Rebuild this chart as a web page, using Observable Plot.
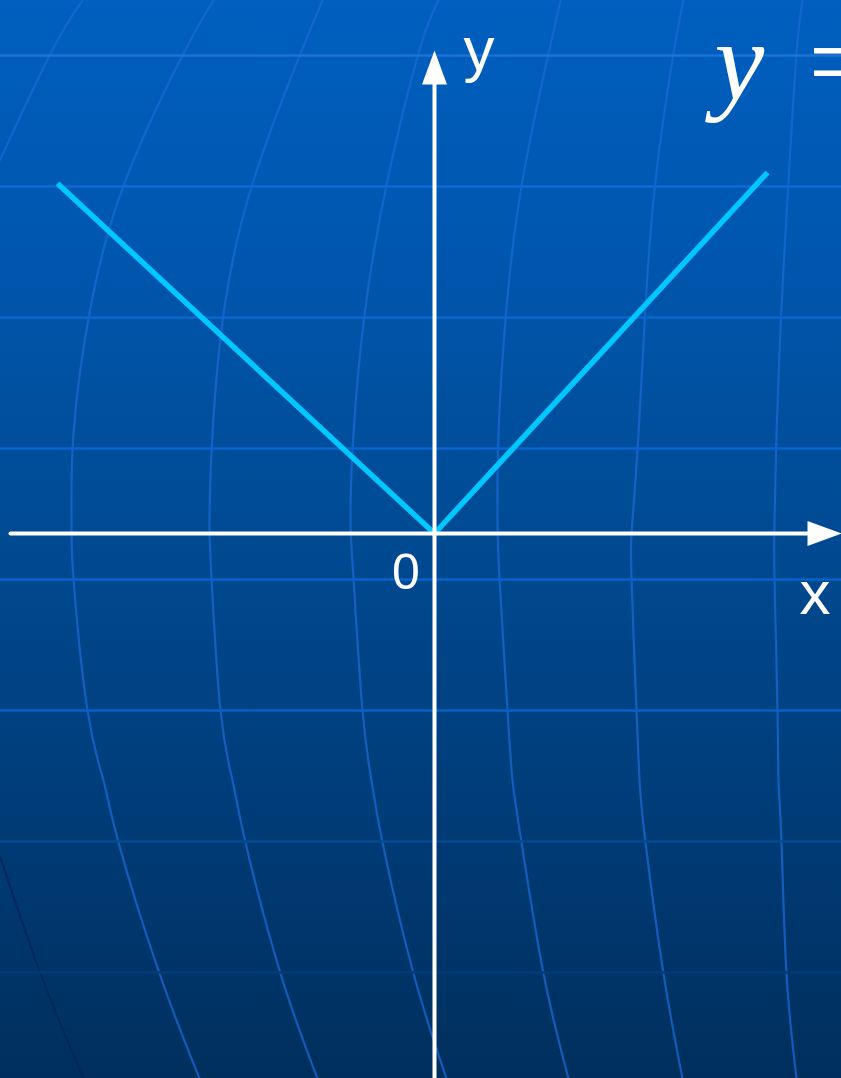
<!DOCTYPE html>
<html>
<head>
<meta charset="utf-8">
<script src="https://cdn.jsdelivr.net/npm/d3@7"></script>
<script src="https://cdn.jsdelivr.net/npm/@observablehq/plot@0.6"></script>
<style>
  html, body { margin: 0; padding: 0; overflow: hidden; background: #00305e; }
  #chart svg { display: block; }
</style>
</head>
<body>
<div id="chart"></div>
<script>
// ---- data (units: 1 = one grid step of the drawing) ----
const xDomain = [-4.34, 4.07];
const yDomain = [-5.45, 5.33];

// the V-shaped graph y = |x|
const graphX = [-3.77, 0, 3.33];
const graphY = [3.50, 0, 3.61];

// background horizontal grid lines
const gridY = [4.78, 3.47, 2.16, 0.85, -0.46, -1.77, -3.08, -4.39];

// background curved meridians (shared y samples)
const meridianY = [5.33, 4.80, 3.53, 2.26, 1.00, 0.13, -0.45, -1.77, -2.47, -3.09, -4.40, -5.45];
const meridianA = [-3.52, -3.84, -4.44, null, null, null, null, null, null, null, null, null];
const meridianB = [-2.21, -2.51, -3.09, -3.44, -3.61, -3.63, -3.61, -3.47, -3.31, -3.16, -2.75, -2.35];
const meridianC = [-1.12, -1.34, -1.81, -2.10, -2.22, -2.25, -2.23, -2.14, -2.02, -1.89, -1.54, -1.17];
const meridianD = [0.04, -0.16, -0.47, -0.69, -0.81, -0.84, -0.81, -0.72, -0.63, -0.52, -0.21, 0.12];
const meridianE = [1.26, 1.14, 0.88, 0.72, 0.64, 0.63, 0.65, 0.73, 0.78, 0.87, 1.09, 1.34];
const meridianF = [2.49, 2.39, 2.21, 2.11, 2.04, 1.98, 1.97, 2.02, 2.05, 2.11, 2.29, 2.48];
const meridianG = [3.68, 3.62, 3.54, 3.47, 3.42, 3.40, 3.40, 3.43, 3.44, 3.47, 3.52, 3.62];
const shadowX = [-4.34, -3.94, -3.51];
const shadowY = [-3.24, -4.40, -5.45];

// axis labels
const axisLabelText = ["y", "x"];
const axisLabelX = [0.29, 3.65];
const axisLabelY = [4.64, -0.80];
const originText = "0";
const originX = -0.285;
const originY = -0.55;

// formula title (cut at the right edge)
const formulaVar = "y";
const formulaRest = "= |x|";
const formulaVarX = 2.80;
const formulaRestX = 3.74;
const formulaY = 4.35;

// ---- build tables ----
const meridians = [meridianA, meridianB, meridianC, meridianD, meridianE, meridianF, meridianG]
  .flatMap((xs, k) => xs.map((x, i) => ({k, x, y: x == null ? null : meridianY[i]})));
const shadow = shadowX.map((x, i) => ({x, y: shadowY[i]}));
const graph = graphX.map((x, i) => ({x, y: graphY[i]}));
const axisLabels = axisLabelText.map((t, i) => ({t, x: axisLabelX[i], y: axisLabelY[i]}));

// axes derived from the domain
const xMin = xDomain[0] + 0.10, xMax = xDomain[1];
const yMin = yDomain[0], yMax = yDomain[1] - 0.50;
const headLen = 0.34, headHalf = 0.125;
const xAxisLine = [{x: xMin, y: 0}, {x: xMax - headLen, y: 0}];
const yAxisLine = [{x: 0, y: yMin}, {x: 0, y: yMax - headLen}];
const xHead = [{x: xMax, y: 0}, {x: xMax - headLen, y: headHalf}, {x: xMax - headLen, y: -headHalf}];
const yHead = [{x: 0, y: yMax}, {x: -headHalf, y: yMax - headLen}, {x: headHalf, y: yMax - headLen}];

const gridColors = ["#1d72d6", "#0f6ad3", "#0a67d0", "#0865cd", "#0663cc", "#0660c8", "#044a94", "#003d78"];
const sans = "'Liberation Sans', Arial, sans-serif";
const serif = "'Liberation Serif', 'Times New Roman', serif";

const chart = Plot.plot({
  width: 841,
  height: 1078,
  margin: 0,
  style: {
    background: "linear-gradient(to bottom, #005fbf 0%, #0056ad 25%, #004a92 50%, #003c78 75%, #002f5d 100%)",
    overflow: "hidden"
  },
  x: {domain: xDomain, axis: null},
  y: {domain: yDomain, axis: null},
  marks: [
    Plot.line(shadow, {x: "x", y: "y", stroke: "#00285a", strokeWidth: 2, curve: "natural", clip: true}),
    Plot.line(meridians, {x: "x", y: "y", z: "k", stroke: "#1a6ad6", strokeOpacity: 0.75, strokeWidth: 2.2, curve: "natural", clip: true}),
    Plot.ruleY(gridY, {stroke: (d, i) => gridColors[i], strokeWidth: 2.5}),
    Plot.line(graph, {x: "x", y: "y", stroke: "#00c8ff", strokeWidth: 5.5, strokeLinejoin: "miter", strokeLinecap: "butt"}),
    Plot.line(xAxisLine, {x: "x", y: "y", stroke: "white", strokeWidth: 4}),
    Plot.line(yAxisLine, {x: "x", y: "y", stroke: "white", strokeWidth: 4}),
    Plot.line(xHead, {x: "x", y: "y", fill: "white", stroke: "none"}),
    Plot.line(yHead, {x: "x", y: "y", fill: "white", stroke: "none"}),
    Plot.text(axisLabels, {x: "x", y: "y", text: "t", fill: "white", fontSize: 62,
      fontFamily: sans, textAnchor: "start", lineAnchor: "bottom"}),
    Plot.text([originText], {x: () => originX, y: () => originY, text: (d) => d, fill: "white", fontSize: 50,
      fontFamily: sans, textAnchor: "middle", lineAnchor: "bottom"}),
    Plot.text([formulaVar], {x: () => formulaVarX, y: () => formulaY, text: (d) => d, fill: "white", fontSize: 112,
      fontFamily: serif, fontStyle: "italic", textAnchor: "start", lineAnchor: "bottom"}),
    Plot.text([formulaRest], {x: () => formulaRestX, y: () => formulaY, text: (d) => d, fill: "white", fontSize: 112,
      fontFamily: serif, textAnchor: "start", lineAnchor: "bottom"})
  ]
});
document.getElementById("chart").appendChild(chart);
</script>
</body>
</html>
